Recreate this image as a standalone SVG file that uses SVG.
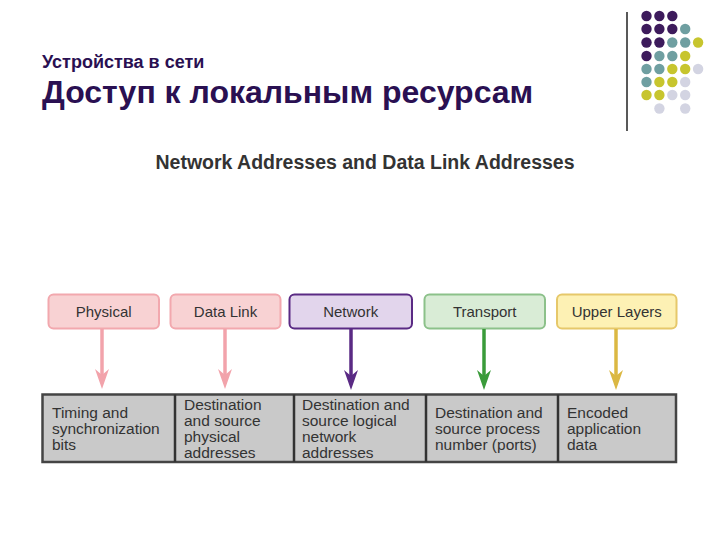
<svg xmlns="http://www.w3.org/2000/svg" width="720" height="540" viewBox="0 0 720 540">
<style>
.t{font-family:"Liberation Sans",Arial,sans-serif;fill:#333}
.lbl{font-size:15px;text-anchor:middle}
.cell{font-size:15.5px}
.hd{fill:#2a1052;font-weight:bold;font-family:"Liberation Sans",Arial,sans-serif}
.box{stroke-width:2}
.pu{fill:#3d1b5c}.te{fill:#6f9fa1}.ye{fill:#c7c52e}.lg{fill:#d3d4e2}
</style>
<defs>
<marker id="mPink" viewBox="0 0 20 14" refX="14" refY="7" markerWidth="20" markerHeight="14" markerUnits="userSpaceOnUse" orient="auto"><path d="M0,0 L20,7 L0,14 L6,7 Z" fill="#f2a3ab"/></marker>
<marker id="mPurple" viewBox="0 0 20 14" refX="14" refY="7" markerWidth="20" markerHeight="14" markerUnits="userSpaceOnUse" orient="auto"><path d="M0,0 L20,7 L0,14 L6,7 Z" fill="#5a2a84"/></marker>
<marker id="mGreen" viewBox="0 0 20 14" refX="14" refY="7" markerWidth="20" markerHeight="14" markerUnits="userSpaceOnUse" orient="auto"><path d="M0,0 L20,7 L0,14 L6,7 Z" fill="#3a9b3a"/></marker>
<marker id="mYellow" viewBox="0 0 20 14" refX="14" refY="7" markerWidth="20" markerHeight="14" markerUnits="userSpaceOnUse" orient="auto"><path d="M0,0 L20,7 L0,14 L6,7 Z" fill="#dbb843"/></marker>
</defs>
<rect width="720" height="540" fill="#ffffff"/>

<g id="decor">
<line x1="627" y1="12" x2="627" y2="131" stroke="#222" stroke-width="1.5"/>
<circle class="pu" cx="646.5" cy="16" r="5.2"/><circle class="pu" cx="659.4" cy="16" r="5.2"/><circle class="pu" cx="672.3" cy="16" r="5.2"/>
<circle class="pu" cx="646.5" cy="29" r="5.2"/><circle class="pu" cx="659.4" cy="29" r="5.2"/><circle class="pu" cx="672.3" cy="29" r="5.2"/><circle class="te" cx="685.2" cy="29" r="5.2"/>
<circle class="pu" cx="646.5" cy="42.5" r="5.2"/><circle class="pu" cx="659.4" cy="42.5" r="5.2"/><circle class="te" cx="672.3" cy="42.5" r="5.2"/><circle class="te" cx="685.2" cy="42.5" r="5.2"/><circle class="ye" cx="698.1" cy="42.5" r="5.2"/>
<circle class="pu" cx="646.5" cy="56" r="5.2"/><circle class="te" cx="659.4" cy="56" r="5.2"/><circle class="te" cx="672.3" cy="56" r="5.2"/><circle class="ye" cx="685.2" cy="56" r="5.2"/>
<circle class="te" cx="646.5" cy="69" r="5.2"/><circle class="te" cx="659.4" cy="69" r="5.2"/><circle class="ye" cx="672.3" cy="69" r="5.2"/><circle class="ye" cx="685.2" cy="69" r="5.2"/><circle class="lg" cx="698.1" cy="69" r="5.2"/>
<circle class="te" cx="646.5" cy="82" r="5.2"/><circle class="ye" cx="659.4" cy="82" r="5.2"/><circle class="ye" cx="672.3" cy="82" r="5.2"/><circle class="lg" cx="685.2" cy="82" r="5.2"/>
<circle class="ye" cx="646.5" cy="95" r="5.2"/><circle class="ye" cx="659.4" cy="95" r="5.2"/><circle class="lg" cx="672.3" cy="95" r="5.2"/><circle class="lg" cx="685.2" cy="95" r="5.2"/>
<circle class="lg" cx="659.4" cy="108.5" r="5.2"/><circle class="lg" cx="685.2" cy="108.5" r="5.2"/>
</g>

<g id="titles">
<text class="hd" x="42" y="68" font-size="18">Устройства в сети</text>
<text class="hd" x="42" y="103" font-size="32">Доступ к локальным ресурсам</text>
<text class="t" x="365" y="169" font-size="19.5" font-weight="bold" text-anchor="middle">Network Addresses and Data Link Addresses</text>
</g>

<g id="node-physical">
<rect class="box" x="48.5" y="294.5" width="110.5" height="34" rx="5" fill="#f8d2d3" stroke="#f2a8ae"/>
<text class="t lbl" x="103.7" y="316.5">Physical</text>
</g>
<g id="node-datalink">
<rect class="box" x="170.5" y="294.5" width="110" height="34" rx="5" fill="#f8d2d3" stroke="#f2a8ae"/>
<text class="t lbl" x="225.5" y="316.5">Data Link</text>
</g>
<g id="node-network">
<rect class="box" x="289.5" y="294.5" width="122.5" height="34" rx="5" fill="#e2d5ec" stroke="#5a2a84"/>
<text class="t lbl" x="350.7" y="316.5">Network</text>
</g>
<g id="node-transport">
<rect class="box" x="424.5" y="294.5" width="120.5" height="34" rx="5" fill="#d9ecd6" stroke="#8cc18a"/>
<text class="t lbl" x="484.7" y="316.5">Transport</text>
</g>
<g id="node-upper">
<rect class="box" x="557" y="294.5" width="119.5" height="34" rx="5" fill="#fdf1b4" stroke="#e6c86a"/>
<text class="t lbl" x="616.7" y="316.5">Upper Layers</text>
</g>

<g id="connectors" fill="none" stroke-width="3.5">
<line x1="102" y1="329" x2="102" y2="383" stroke="#f2a3ab" marker-end="url(#mPink)"/>
<line x1="225" y1="329" x2="225" y2="383" stroke="#f2a3ab" marker-end="url(#mPink)"/>
<line x1="351" y1="329" x2="351" y2="384" stroke="#5a2a84" marker-end="url(#mPurple)"/>
<line x1="484" y1="329" x2="484" y2="384" stroke="#3a9b3a" marker-end="url(#mGreen)"/>
<line x1="616" y1="329" x2="616" y2="384" stroke="#dbb843" marker-end="url(#mYellow)"/>
</g>

<g id="frame">
<rect x="42.5" y="394.5" width="633.5" height="67.5" fill="#c9c9c9" stroke="#444" stroke-width="2.5"/>
<line x1="175" y1="394.5" x2="175" y2="462" stroke="#333" stroke-width="2.5"/>
<line x1="294" y1="394.5" x2="294" y2="462" stroke="#333" stroke-width="2.5"/>
<line x1="426" y1="394.5" x2="426" y2="462" stroke="#333" stroke-width="2.5"/>
<line x1="558" y1="394.5" x2="558" y2="462" stroke="#333" stroke-width="2.5"/>
</g>
<g id="cell-physical"><text class="t cell" x="52" y="418">Timing and<tspan x="52" dy="16">synchronization</tspan><tspan x="52" dy="16">bits</tspan></text></g>
<g id="cell-datalink"><text class="t cell" x="184" y="410">Destination<tspan x="184" dy="16">and source</tspan><tspan x="184" dy="16">physical</tspan><tspan x="184" dy="16">addresses</tspan></text></g>
<g id="cell-network"><text class="t cell" x="302" y="410">Destination and<tspan x="302" dy="16">source logical</tspan><tspan x="302" dy="16">network</tspan><tspan x="302" dy="16">addresses</tspan></text></g>
<g id="cell-transport"><text class="t cell" x="435" y="418">Destination and<tspan x="435" dy="16">source process</tspan><tspan x="435" dy="16">number (ports)</tspan></text></g>
<g id="cell-upper"><text class="t cell" x="567" y="418">Encoded<tspan x="567" dy="16">application</tspan><tspan x="567" dy="16">data</tspan></text></g>
</svg>
